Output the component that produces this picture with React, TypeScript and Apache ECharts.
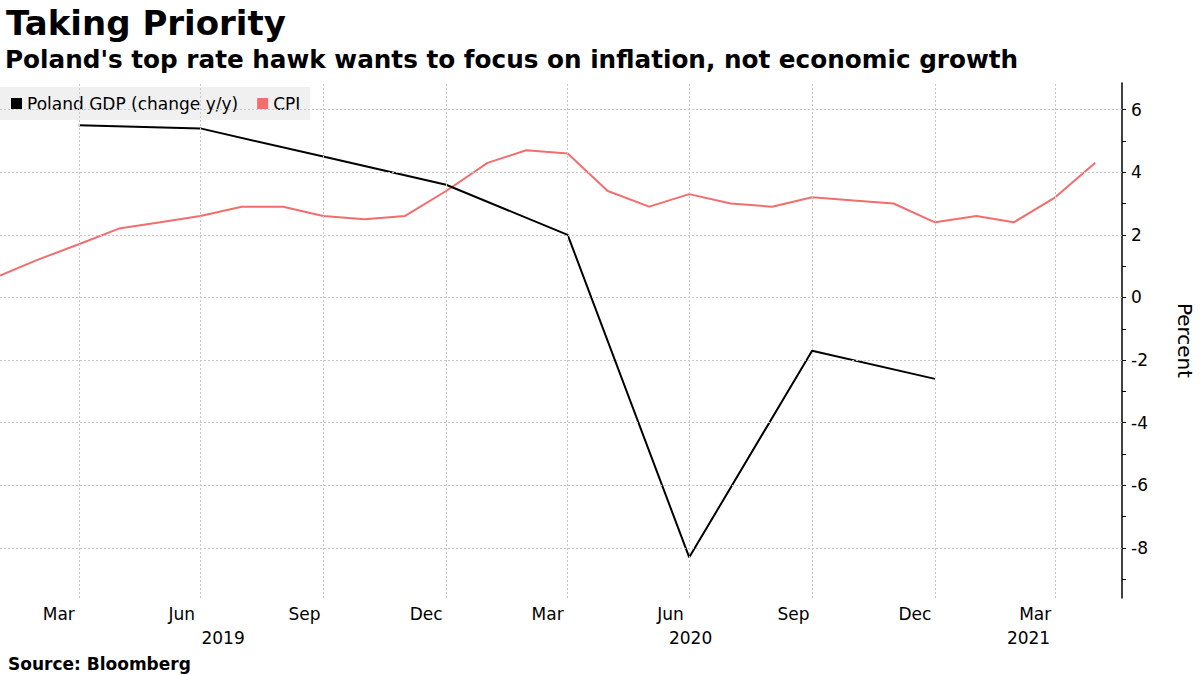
import React, { useEffect, useRef } from "react";
import * as echarts from "echarts";

// ---- Data ----
const cpiMonths = [
  "2019-01", "2019-02", "2019-03", "2019-04", "2019-05", "2019-06", "2019-07", "2019-08", "2019-09", "2019-10", "2019-11", "2019-12",
  "2020-01", "2020-02", "2020-03", "2020-04", "2020-05", "2020-06", "2020-07", "2020-08", "2020-09", "2020-10", "2020-11", "2020-12",
  "2021-01", "2021-02", "2021-03", "2021-04",
];
const cpiValues = [
  0.7, 1.2, 1.7, 2.2, 2.4, 2.6, 2.9, 2.9, 2.6, 2.5, 2.6, 3.4,
  4.3, 4.7, 4.6, 3.4, 2.9, 3.3, 3.0, 2.9, 3.2, 3.1, 3.0, 2.4,
  2.6, 2.4, 3.2, 4.3,
];
const gdpQuarters = ["2019-03", "2019-06", "2019-09", "2019-12", "2020-03", "2020-06", "2020-09", "2020-12"];
const gdpValues = [5.5, 5.4, 4.5, 3.6, 2.0, -8.3, -1.7, -2.6];

const gridMonths = ["2019-03", "2019-06", "2019-09", "2019-12", "2020-03", "2020-06", "2020-09", "2020-12", "2021-03"];
const monthNames = ["Jan", "Feb", "Mar", "Apr", "May", "Jun", "Jul", "Aug", "Sep", "Oct", "Nov", "Dec"];
const years = [2019, 2020, 2021];
const yTickValues = [-9, -8, -7, -6, -5, -4, -3, -2, -1, 0, 1, 2, 3, 4, 5, 6];
const yLabelValues = [-8, -6, -4, -2, 0, 2, 4, 6];
const yMin = -9.6;
const yMax = 6.85;
const xMinDate = "2019-01-31";
const xMaxDate = "2021-05-20";

const seriesNames = ["Poland GDP (change y/y)", "CPI"];
const titleText = "Taking Priority";
const subtitleText = "Poland's top rate hawk wants to focus on inflation, not economic growth";
const sourceText = "Source: Bloomberg";

// ---- helpers ----
const monthEnd = (ym: string) => {
  const [y, m] = ym.split("-").map(Number);
  return Date.UTC(y, m, 0);
};
const monthMid = (ym: string) => {
  const [y, m] = ym.split("-").map(Number);
  return Date.UTC(y, m - 1, 16);
};
const parseDate = (s: string) => {
  const [y, m, d] = s.split("-").map(Number);
  return Date.UTC(y, m - 1, d);
};

export default function App() {
  const ref = useRef<HTMLDivElement>(null);

  useEffect(() => {
    document.body.style.margin = "0";
    if (!ref.current) return;
    const chart = echarts.init(ref.current, undefined, { renderer: "svg" });

    const xMin = parseDate(xMinDate);
    const xMax = parseDate(xMaxDate);
    const yearCenters = years.map((y) => {
      const s = Math.max(xMin, Date.UTC(y, 0, 0));
      const e = Math.min(xMax, Date.UTC(y, 11, 31));
      return (s + e) / 2;
    });
    const yearOf = (v: number) => {
      let best = 0;
      let bd = Infinity;
      yearCenters.forEach((c, i) => {
        const d = Math.abs(c - v);
        if (d < bd) { bd = d; best = i; }
      });
      return String(years[best]);
    };

    const font = "DejaVu Sans";
    const gridLineStyle = { color: "#c8c8c8", type: [2, 2] as any, width: 1 };

    chart.setOption({
      animation: false,
      textStyle: { fontFamily: font },
      title: [
        { text: titleText, left: 1, top: 1, textStyle: { fontFamily: font, fontSize: 34, fontWeight: "bold", color: "#000" } },
        { text: subtitleText, left: 0, top: 42, textStyle: { fontFamily: font, fontSize: 24.7, fontWeight: "bold", color: "#000" } },
        { text: sourceText, left: 3, top: 650, textStyle: { fontFamily: font, fontSize: 17, fontWeight: "bold", color: "#000" } },
      ],
      legend: {
        left: 0,
        top: 87,
        data: seriesNames,
        icon: "rect",
        itemWidth: 11,
        itemHeight: 11,
        itemGap: 19,
        padding: [8, 10, 8, 11],
        backgroundColor: "#f0f0f0",
        textStyle: { fontFamily: font, fontSize: 17, color: "#000" },
        selectedMode: false,
      },
      grid: { left: 0, right: 78, top: 83, bottom: 77, containLabel: false, outerBoundsMode: "none" },
      xAxis: [
        {
          type: "value",
          min: xMin,
          max: xMax,
          axisLine: { show: false },
          axisTick: { show: false },
          splitLine: { show: false },
          axisLabel: {
            customValues: gridMonths.map(monthMid),
            formatter: (v: number) => monthNames[new Date(v).getUTCMonth()],
            fontFamily: font,
            fontSize: 17,
            color: "#000",
            margin: 7,
          },
        },
        {
          type: "value",
          min: xMin,
          max: xMax,
          position: "bottom",
          offset: 24,
          axisLine: { show: false },
          axisTick: { show: false },
          splitLine: { show: false },
          axisLabel: {
            customValues: yearCenters,
            formatter: (v: number) => yearOf(v),
            fontFamily: font,
            fontSize: 17,
            color: "#000",
            margin: 7,
          },
        },
      ],
      yAxis: {
        type: "value",
        position: "right",
        min: yMin,
        max: yMax,
        name: "Percent",
        nameLocation: "middle",
        nameRotate: -90,
        nameGap: 53,
        nameTextStyle: { fontFamily: font, fontSize: 20, color: "#000" },
        axisLine: { show: true, lineStyle: { color: "#000", width: 1.5 } },
        axisTick: { show: true, customValues: yTickValues, length: 4, lineStyle: { color: "#000", width: 1 } },
        splitLine: { show: false },
        axisLabel: {
          customValues: yLabelValues,
          fontFamily: font,
          fontSize: 17,
          color: "#000",
          margin: 9,
        },
      },
      series: [
        {
          name: "gridlines",
          type: "line",
          data: [],
          z: 1,
          silent: true,
          markLine: {
            silent: true,
            symbol: "none",
            label: { show: false },
            lineStyle: gridLineStyle,
            emphasis: { disabled: true },
            data: [
              ...yLabelValues.map((v) => ({ yAxis: v })),
              ...gridMonths.map((m) => ({ xAxis: monthEnd(m) })),
            ],
          },
        },
        {
          name: seriesNames[0],
          type: "line",
          z: 3,
          showSymbol: false,
          symbol: "none",
          color: "#000000",
          lineStyle: { color: "#000000", width: 2 },
          data: gdpQuarters.map((q, i) => [monthEnd(q), gdpValues[i]]),
        },
        {
          name: seriesNames[1],
          type: "line",
          z: 2,
          showSymbol: false,
          symbol: "none",
          color: "#f26d6d",
          lineStyle: { color: "#f26d6d", width: 2 },
          data: cpiMonths.map((m, i) => [monthEnd(m), cpiValues[i]]),
        },
      ],
    });

    return () => chart.dispose();
  }, []);

  return <div ref={ref} style={{ width: 1200, height: 675 }} />;
}
